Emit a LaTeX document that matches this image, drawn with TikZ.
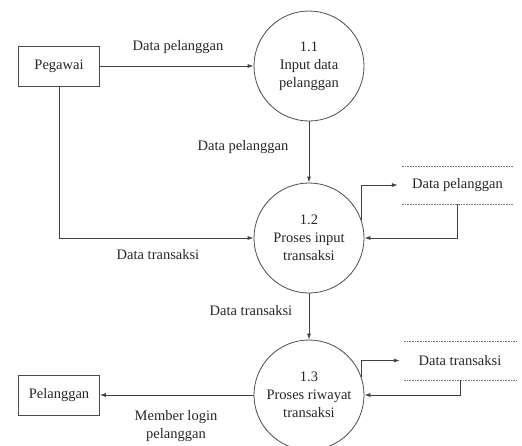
\documentclass[tikz,border=0pt]{standalone}
\usepackage{fontspec}
\setmainfont{Liberation Serif}
\usetikzlibrary{arrows.meta}
\begin{document}
\begin{tikzpicture}[x=1pt,y=-1pt,
  txt/.style={font=\fontsize{14.5}{18}\selectfont, text=black!85},
  proc/.style={txt,circle,draw=black!70,line width=0.8pt,minimum size=110pt,inner sep=0pt,align=center},
  ent/.style={txt,rectangle,draw=black!70,line width=0.8pt,minimum width=81pt,minimum height=40pt},
  lbl/.style={txt,align=center,inner sep=0pt},
  flow/.style={draw=black!75,line width=0.8pt,-{Latex[length=6pt,width=4pt]}},
  storeline/.style={draw=black!55,densely dotted,line width=0.6pt},
  storebox/.style={txt,minimum width=111pt,minimum height=38pt,inner sep=0pt}]
\useasboundingbox (0,0) rectangle (522,445);

\node[ent] (peg) at (59,66) {Pegawai};
\node[ent] (pel) at (59,395) {Pelanggan};
\node[proc] (p1) at (309,66) {1.1\\Input data\\pelanggan};
\node[proc] (p2) at (309,238) {1.2\\Proses input\\transaksi};
\node[proc] (p3) at (309,395) {1.3\\Proses riwayat\\transaksi};

\node[storebox] (ds1) at (457.5,185) {Data pelanggan};
\draw[storeline] (ds1.north west) -- (ds1.north east);
\draw[storeline] (ds1.south west) -- (ds1.south east);
\node[storebox, minimum width=112pt, minimum height=39pt] (ds2) at (460,360.5) {Data transaksi};
\draw[storeline] (ds2.north west) -- (ds2.north east);
\draw[storeline] (ds2.south west) -- (ds2.south east);

\draw[flow] (peg.east) -- (p1.west);
\draw[flow] (peg.south) |- (p2.west);
\draw[flow] (p1.south) -- (p2.north);
\draw[flow] (p2.south) -- (p3.north);
\draw[flow] (p3.west) -- (pel.east);
\draw[flow, shorten >=4pt] (p2.19) |- (ds1.west);
\draw[flow] (ds1.south) |- (p2.east);
\draw[flow, shorten >=4pt] (p3.19) |- (ds2.west);
\draw[flow] (ds2.south) |- (p3.east);

\node[lbl] (l1) at (178,47) {Data pelanggan};
\node[lbl] (l2) at (243,147) {Data pelanggan};
\node[lbl] (l3) at (158,255) {Data transaksi};
\node[lbl] (l4) at (251,311) {Data transaksi};
\node[lbl] (l5) at (176,426) {Member login\\pelanggan};
\end{tikzpicture}
\end{document}
